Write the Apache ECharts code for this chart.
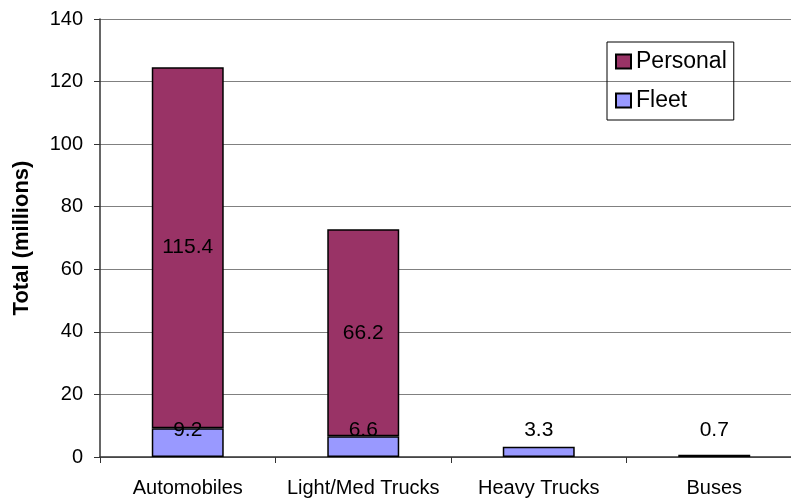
<!DOCTYPE html>
<html>
<head>
<meta charset="utf-8">
<script src="https://cdn.jsdelivr.net/npm/echarts@6/dist/echarts.min.js"></script>
<style>
  html, body { margin: 0; padding: 0; background: #fff; }
  #chart { width: 791px; height: 501px; }
</style>
</head>
<body>
<div id="chart"></div>
<script>
var categories = ["Automobiles", "Light/Med Trucks", "Heavy Trucks", "Buses"];
var fleetData = [9.2, 6.6, 3.3, 0.7];
var personalData = [115.4, 66.2, null, null];
var yTicks = { min: 0, max: 140, interval: 20 };

var font = "Liberation Sans, Arial, sans-serif";
var myChart = echarts.init(document.getElementById("chart"));
myChart.setOption({
  backgroundColor: "#ffffff",
  animation: false,
  textStyle: { fontFamily: font },
  grid: { left: 100, top: 19, width: 702, height: 438, outerBoundsMode: "none" },
  legend: {
    data: ["Personal", "Fleet"],
    orient: "vertical",
    left: 607,
    top: 42,
    icon: "rect",
    borderColor: "#000",
    borderWidth: 1,
    padding: [8, 7, 8, 8],
    itemGap: 16,
    itemWidth: 15,
    itemHeight: 14,
    textStyle: { fontFamily: font, fontSize: 23, color: "#000" }
  },
  xAxis: {
    type: "category",
    data: categories,
    axisLine: { lineStyle: { color: "#333", width: 1.5 } },
    axisTick: { show: true, interval: 0, alignWithLabel: false, length: 6, lineStyle: { color: "#333" } },
    axisLabel: { interval: 0, fontFamily: font, fontSize: 20, color: "#000", margin: 21 }
  },
  yAxis: {
    type: "value",
    min: yTicks.min,
    max: yTicks.max,
    interval: yTicks.interval,
    name: "Total (millions)",
    nameLocation: "middle",
    nameRotate: 90,
    nameGap: 67,
    nameTextStyle: { fontFamily: font, fontSize: 22, fontWeight: "bold", color: "#000" },
    axisLine: { show: true, lineStyle: { color: "#333", width: 1.5 } },
    axisTick: { show: true, length: 6, lineStyle: { color: "#333" } },
    axisLabel: { fontFamily: font, fontSize: 20, color: "#000", margin: 17 },
    splitLine: { show: true, lineStyle: { color: "#808080", width: 1 } }
  },
  series: [
    {
      name: "Fleet",
      type: "bar",
      stack: "total",
      data: fleetData,
      barWidth: "41%",
      itemStyle: { color: "#9999ff", borderColor: "#000", borderWidth: 1.5 },
      label: {
        show: true,
        position: "insideBottom",
        distance: 16,
        fontFamily: font,
        fontSize: 21,
        color: "#000"
      }
    },
    {
      name: "Personal",
      type: "bar",
      stack: "total",
      data: personalData,
      barWidth: "41%",
      itemStyle: { color: "#993366", borderColor: "#000", borderWidth: 1.5 },
      label: {
        show: true,
        position: "inside",
        fontFamily: font,
        fontSize: 21,
        color: "#000"
      }
    }
  ]
});
</script>
</body>
</html>
